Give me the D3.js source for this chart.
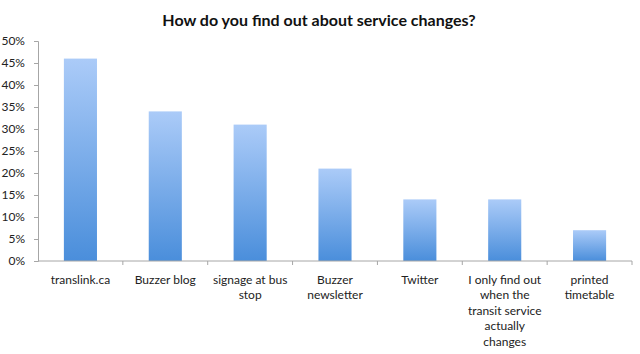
<!DOCTYPE html>
<html>
<head>
<meta charset="utf-8">
<script src="https://cdn.jsdelivr.net/npm/d3@7"></script>
<style>
  body { margin: 0; background: #fff; }
  svg { display: block; }
</style>
</head>
<body>
<svg id="chart" width="640" height="354"></svg>
<script>
var categories = [
    ["translink.ca"],
    ["Buzzer blog"],
    ["signage at bus", "stop"],
    ["Buzzer", "newsletter"],
    ["Twitter"],
    ["I only find out", "when the", "transit service", "actually", "changes"],
    ["printed", "timetable"]
];
var values = [46, 34, 31, 21, 14, 14, 7];
var yTicks = [0, 5, 10, 15, 20, 25, 30, 35, 40, 45, 50];

var width = 640;
var height = 354;
var margin = { top: 41, right: 8, bottom: 93, left: 38 };

var svg = d3.select("#chart");

var grad = svg.append("defs").append("linearGradient")
    .attr("id", "barGrad")
    .attr("x1", 0).attr("y1", 0).attr("x2", 0).attr("y2", 1);
grad.append("stop").attr("offset", "0%").attr("stop-color", "#abcbf8");
grad.append("stop").attr("offset", "100%").attr("stop-color", "#4a8edb");

var idx = d3.range(categories.length);

var xScale = d3.scaleBand()
    .domain(idx)
    .range([margin.left, width - margin.right])
    .padding(0);

var yScale = d3.scaleLinear()
    .domain([0, 50])
    .range([height - margin.bottom, margin.top]);

// title
svg.append("text")
    .attr("x", 319)
    .attr("y", 26)
    .attr("text-anchor", "middle")
    .style("font-family", "Lato, 'Open Sans', sans-serif")
    .style("font-weight", "bold")
    .style("font-size", "16px")
    .style("fill", "#111")
    .text("How do you find out about service changes?");

// y axis
var yAxis = d3.axisLeft(yScale)
    .tickValues(yTicks)
    .tickFormat(d => d + "%")
    .tickSize(4)
    .tickPadding(9);

var yg = svg.append("g")
    .attr("transform", `translate(${margin.left},0)`)
    .call(yAxis);
yg.select(".domain").attr("stroke", "#a6a6a6");
yg.selectAll(".tick line").attr("stroke", "#a6a6a6");
yg.selectAll(".tick text")
    .style("font-family", "Lato, 'Open Sans', sans-serif")
    .style("font-size", "12px")
    .style("fill", "#222");

// bars
var barW = xScale.bandwidth() * 0.39;
svg.selectAll("rect.bar")
    .data(values)
    .enter()
    .append("rect")
    .attr("class", "bar")
    .attr("x", (d, i) => xScale(i) + (xScale.bandwidth() - barW) / 2)
    .attr("y", d => yScale(d))
    .attr("width", barW)
    .attr("height", d => yScale(0) - yScale(d))
    .attr("fill", "url(#barGrad)");

// x axis line and ticks at category boundaries
var y0 = yScale(0);
svg.append("line")
    .attr("x1", margin.left).attr("x2", width - margin.right)
    .attr("y1", y0).attr("y2", y0)
    .attr("stroke", "#a6a6a6");
svg.selectAll("line.xtick")
    .data(idx)
    .enter()
    .append("line")
    .attr("class", "xtick")
    .attr("x1", i => xScale(i) + xScale.bandwidth())
    .attr("x2", i => xScale(i) + xScale.bandwidth())
    .attr("y1", y0).attr("y2", y0 + 4)
    .attr("stroke", "#a6a6a6");

// category labels
var labels = svg.selectAll("text.cat")
    .data(categories)
    .enter()
    .append("text")
    .attr("class", "cat")
    .attr("text-anchor", "middle")
    .style("font-family", "Lato, 'Open Sans', sans-serif")
    .style("font-size", "12px")
    .style("fill", "#222");

labels.each(function(lines, i) {
    var t = d3.select(this);
    lines.forEach((ln, j) => {
        t.append("tspan")
            .attr("x", xScale(i) + xScale.bandwidth() / 2)
            .attr("y", y0 + 22.5 + j * 15.6)
            .text(ln);
    });
});
</script>
</body>
</html>
